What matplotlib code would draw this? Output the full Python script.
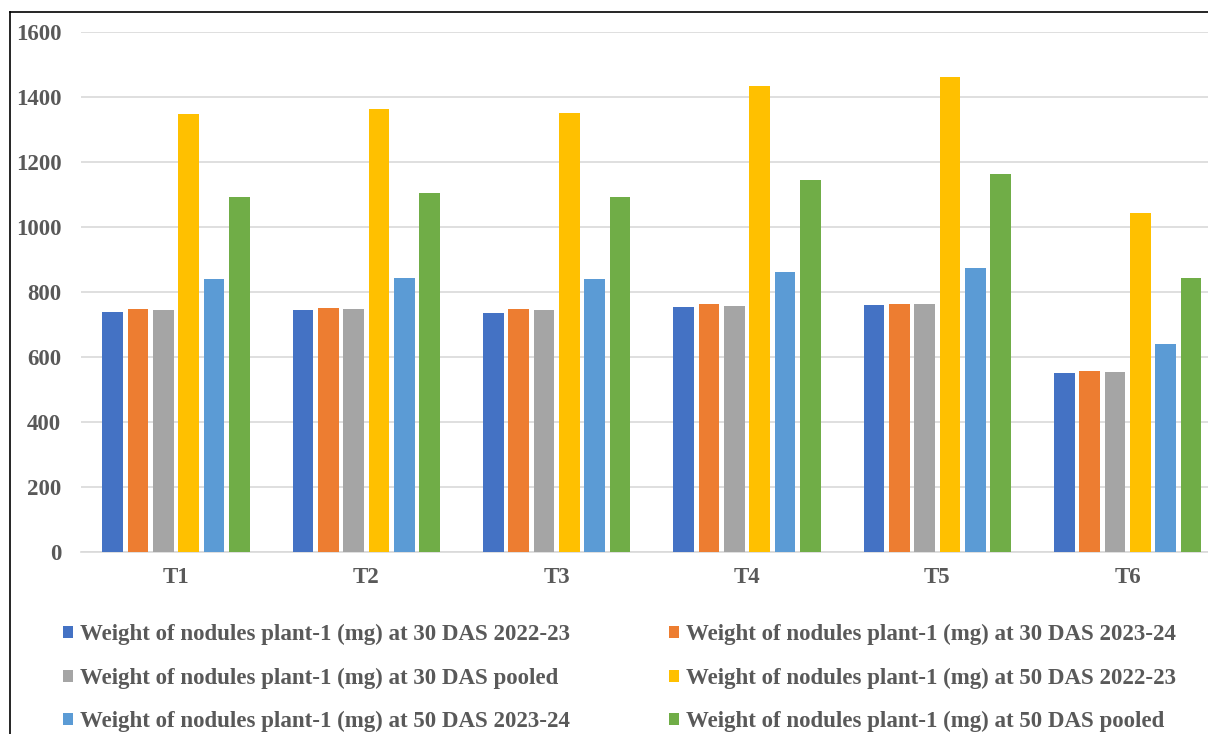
import numpy as np
import matplotlib
matplotlib.use("Agg")
import matplotlib.pyplot as plt
from matplotlib.lines import Line2D

# Nodule weight per plant (mg) for each treatment
treatments = ["T1", "T2", "T3", "T4", "T5", "T6"]
das30_2022 = [739, 744, 735, 755, 760, 551]
das30_2023 = [747, 750, 747, 762, 763, 558]
das30_pooled = [744, 747, 744, 758, 762, 554]
das50_2022 = [1347, 1362, 1350, 1434, 1461, 1042]
das50_2023 = [841, 844, 841, 861, 873, 640]
das50_pooled = [1093, 1106, 1093, 1145, 1164, 842]

series = [das30_2022, das30_2023, das30_pooled, das50_2022, das50_2023, das50_pooled]
labels = [
    "Weight of nodules plant-1 (mg) at 30 DAS 2022-23",
    "Weight of nodules plant-1 (mg) at 30 DAS 2023-24",
    "Weight of nodules plant-1 (mg) at 30 DAS pooled",
    "Weight of nodules plant-1 (mg) at 50 DAS 2022-23",
    "Weight of nodules plant-1 (mg) at 50 DAS 2023-24",
    "Weight of nodules plant-1 (mg) at 50 DAS pooled",
]
colors = ["#4472C4", "#ED7D31", "#A5A5A5", "#FFC000", "#5B9BD5", "#70AD47"]

plt.rcParams["font.family"] = ["Liberation Serif", "DejaVu Serif"]
plt.rcParams["font.weight"] = "bold"
text_color = "#595959"
fs = 16.5

W, H = 1208, 734
fig = plt.figure(figsize=(W / 100, H / 100), dpi=100)
ax = fig.add_axes([80.8 / W, 182 / H, 1142 / W, 520 / H])

x = np.arange(len(treatments))
pitch = 0.133
bar_w = 0.108
handles = []
for i, (vals, col) in enumerate(zip(series, colors)):
    offs = (i - 2.5) * pitch
    b = ax.bar(x + offs, vals, width=bar_w, color=col, zorder=3)
    handles.append(b)

ax.set_xlim(-0.5, len(treatments) - 0.5)
ax.set_ylim(0, 1600)
ax.set_yticks(np.arange(0, 1601, 200))
ax.set_xticks(x)
ax.set_xticklabels(treatments)
ax.grid(axis="y", color="#d9d9d9", linewidth=1.2, zorder=0)
for s in ["top", "right", "left"]:
    ax.spines[s].set_visible(False)
ax.spines["bottom"].set_color("#d9d9d9")
ax.spines["bottom"].set_linewidth(1.2)
ax.tick_params(axis="both", length=0, labelsize=fs, labelcolor=text_color)
ax.tick_params(axis="y", pad=14)
ax.tick_params(axis="x", pad=11)
for lbl in ax.get_xticklabels() + ax.get_yticklabels():
    lbl.set_fontweight("bold")

# legend fills row by row: reorder for matplotlib's column-major layout
order = [0, 2, 4, 1, 3, 5]
leg = fig.legend(
    [handles[k] for k in order], [labels[k] for k in order],
    ncol=2, loc="upper left", bbox_to_anchor=(63 / W, 1 - 624 / H),
    frameon=False, fontsize=fs, handlelength=0.44, handleheight=0.44,
    handletextpad=0.32, columnspacing=4.3, labelspacing=0.98,
    borderaxespad=0, borderpad=0,
)
for t in leg.get_texts():
    t.set_color(text_color)
    t.set_fontweight("bold")

# outer chart frame
fig.add_artist(Line2D([9.5 / W, 9.5 / W], [0, 1 - 11.5 / H], color="black", lw=1.2))
fig.add_artist(Line2D([9.5 / W, 1], [1 - 11.5 / H, 1 - 11.5 / H], color="black", lw=1.2))

fig.savefig("out.png", dpi=100)
